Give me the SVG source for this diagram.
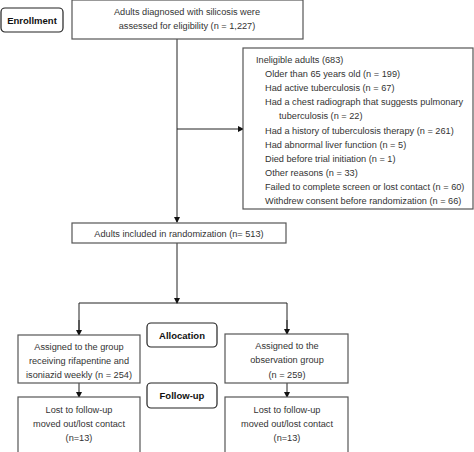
<svg xmlns="http://www.w3.org/2000/svg" width="474" height="452" viewBox="0 0 474 452">
<defs>
<marker id="arr" markerWidth="6" markerHeight="6" refX="5" refY="3" orient="auto" markerUnits="userSpaceOnUse">
<path d="M0,0 L6,3 L0,6 Z" fill="#111"/>
</marker>
<style>
.box{fill:#fff;stroke:#555;stroke-width:1.2}
.lab{fill:#fff;stroke:#222;stroke-width:1.2}
.t{font-family:"Liberation Sans",Arial,sans-serif;font-size:9.2px;fill:#333}
.c{text-anchor:middle}
.b{font-family:"Liberation Sans",Arial,sans-serif;font-size:9.5px;font-weight:bold;fill:#111;text-anchor:middle}
.ln{fill:none;stroke:#222;stroke-width:1}
</style>
</defs>
<rect width="474" height="452" fill="#fff"/>
<g id="connectors">
<line class="ln" x1="177" y1="39" x2="177" y2="222" marker-end="url(#arr)"/>
<line class="ln" x1="177" y1="129" x2="243" y2="129" marker-end="url(#arr)"/>
<line class="ln" x1="177" y1="243" x2="177" y2="303" marker-end="url(#arr)"/>
<polyline class="ln" points="79,335 79,303 287,303 287,334"/>
<line class="ln" x1="79" y1="320" x2="79" y2="335" marker-end="url(#arr)"/>
<line class="ln" x1="287" y1="320" x2="287" y2="334" marker-end="url(#arr)"/>
<line class="ln" x1="79" y1="383" x2="79" y2="397" marker-end="url(#arr)"/>
<line class="ln" x1="287" y1="383" x2="287" y2="397" marker-end="url(#arr)"/>
</g>
<g id="enrollment">
<rect class="lab" x="1" y="8" width="62" height="24" rx="4"/>
<text class="b" x="32" y="24">Enrollment</text>
</g>
<g id="assessed">
<rect class="box" x="72" y="0" width="231" height="39"/>
<text class="t c" x="187" y="15">Adults diagnosed with silicosis were</text>
<text class="t c" x="187" y="29">assessed for eligibility (n = 1,227)</text>
</g>
<g id="ineligible">
<rect class="box" x="243" y="48" width="230" height="161"/>
<text class="t" x="256" y="62.5">Ineligible adults (683)</text>
<text class="t" x="265" y="76.5">Older than 65 years old (n = 199)</text>
<text class="t" x="265" y="90.5">Had active tuberculosis (n = 67)</text>
<text class="t" x="265" y="105">Had a chest radiograph that suggests pulmonary</text>
<text class="t" x="279" y="119">tuberculosis (n = 22)</text>
<text class="t" x="265" y="133.5">Had a history of tuberculosis therapy (n = 261)</text>
<text class="t" x="265" y="147.5">Had abnormal liver function (n = 5)</text>
<text class="t" x="265" y="161.5">Died before trial initiation (n = 1)</text>
<text class="t" x="265" y="175.5">Other reasons (n = 33)</text>
<text class="t" x="265" y="190">Failed to complete screen or lost contact (n = 60)</text>
<text class="t" x="265" y="204">Withdrew consent before randomization (n = 66)</text>
</g>
<g id="randomization">
<rect class="box" x="72" y="223" width="214" height="20"/>
<text class="t c" x="179" y="236.5">Adults included in randomization (n= 513)</text>
</g>
<g id="allocation">
<rect class="lab" x="147" y="323" width="70" height="24" rx="4"/>
<text class="b" x="182" y="339">Allocation</text>
</g>
<g id="followup">
<rect class="lab" x="147" y="383" width="70" height="25" rx="4"/>
<text class="b" x="182" y="399">Follow-up</text>
</g>
<g id="assigned-rif">
<rect class="box" x="18" y="335" width="122" height="48"/>
<text class="t c" x="79" y="349.5">Assigned to the group</text>
<text class="t c" x="79" y="363.5">receiving rifapentine and</text>
<text class="t c" x="79" y="378">isoniazid weekly (n = 254)</text>
</g>
<g id="assigned-obs">
<rect class="box" x="225" y="334" width="123" height="49"/>
<text class="t c" x="287" y="348.5">Assigned to the</text>
<text class="t c" x="287" y="363">observation group</text>
<text class="t c" x="287" y="377.5">(n = 259)</text>
</g>
<g id="lost-rif">
<rect class="box" x="18" y="397" width="122" height="60"/>
<text class="t c" x="79" y="412.5">Lost to follow-up</text>
<text class="t c" x="79" y="426.5">moved out/lost contact</text>
<text class="t c" x="79" y="440.5">(n=13)</text>
</g>
<g id="lost-obs">
<rect class="box" x="225" y="397" width="123" height="60"/>
<text class="t c" x="287" y="412.5">Lost to follow-up</text>
<text class="t c" x="287" y="426.5">moved out/lost contact</text>
<text class="t c" x="287" y="440.5">(n=13)</text>
</g>
</svg>
